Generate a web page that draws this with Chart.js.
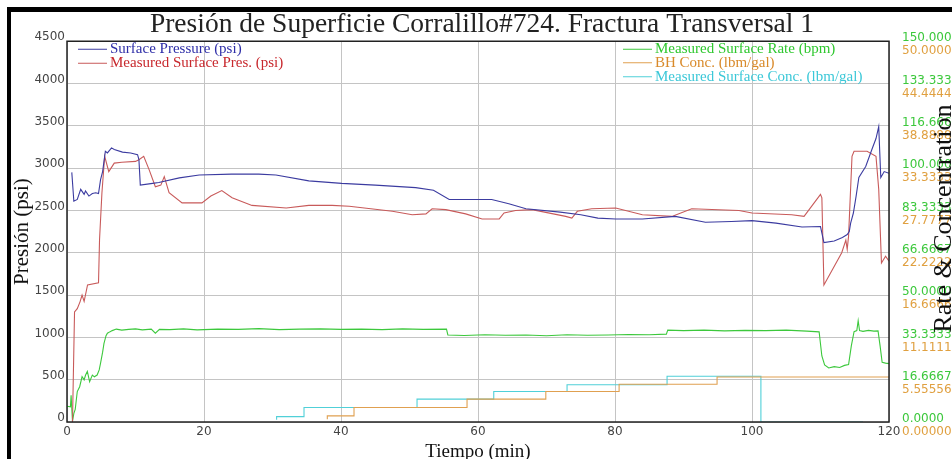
<!DOCTYPE html>
<html>
<head>
<meta charset="utf-8">
<script src="https://cdn.jsdelivr.net/npm/chart.js@4.4.1/dist/chart.umd.min.js"></script>
<style>
  html, body { margin: 0; padding: 0; background: #fff; }
  #wrap { width: 952px; height: 459px; }
</style>
</head>
<body>
<div id="wrap"><canvas id="c" width="952" height="459"></canvas></div>
<script>
// Surface Pressure (psi) - blue
const surfT = [0.7, 1.0, 1.5, 2.0, 2.5, 2.7, 3.2, 3.7, 4.2, 4.6, 4.9, 5.2, 5.6, 5.9, 6.5, 6.9, 8.1, 9.3, 10.3, 10.5,
               10.7, 12.5, 13.4, 16.4, 19.3, 24, 28, 30.5, 35.3, 40.1, 45, 50.9, 53.5, 55.8, 58, 62, 64.5, 67, 72, 75,
               77.5, 80.1, 84, 88.8, 93.2, 97, 100, 103.5, 107.3, 110.0, 110.5, 112, 113.2, 113.9, 114.2, 114.4, 114.8, 115.2, 115.6, 116.6,
               117.5, 118.1, 118.5, 118.8, 119.3, 120];
const surfP = [2950, 2610, 2630, 2750, 2690, 2730, 2670, 2700, 2710, 2700, 2865, 2960, 3200, 3180, 3240, 3220, 3190, 3180, 3160, 3100,
               2800, 2820, 2830, 2885, 2920, 2930, 2930, 2920, 2850, 2820, 2800, 2770, 2740, 2630, 2630, 2630, 2580, 2520, 2480, 2450,
               2410, 2400, 2400, 2430, 2360, 2370, 2380, 2350, 2305, 2310, 2120, 2140, 2180, 2215, 2250, 2350, 2470, 2670, 2890, 3020,
               3220, 3350, 3490, 2890, 2960, 2940];

// Measured Surface Pres. (psi) - red
const measT = [0.8, 1.1, 1.5, 1.9, 2.2, 2.5, 3.0, 4.6, 4.75, 5.1, 5.5, 6.1, 6.9, 8.0, 10.0, 10.5, 11.2, 12.0, 12.9, 13.7,
               14.2, 14.9, 16.8, 19.7, 21.0, 22.6, 24.1, 27.0, 32.0, 35.3, 38.7, 41.2, 47.5, 50.4, 52.4, 53.3, 55.3, 58.2, 60.6, 63.1,
               63.8, 65.5, 67.9, 72.8, 73.7, 74.5, 76.6, 80.1, 84.0, 88.3, 91.2, 98.1, 100.0, 105.8, 107.6, 110.0, 110.2, 110.5, 113.1, 113.7,
               113.9, 114.1, 114.6, 114.9, 116.8, 118.1, 118.5, 118.9, 119.5, 120];
const measP = [0, 1300, 1340, 1420, 1500, 1425, 1620, 1645, 2155, 2710, 3140, 2960, 3060, 3070, 3080, 3100, 3140, 2980, 2780, 2800,
               2900, 2710, 2590, 2590, 2670, 2735, 2650, 2560, 2530, 2560, 2560, 2550, 2490, 2450, 2460, 2520, 2510, 2460, 2400, 2400,
               2470, 2500, 2510, 2430, 2410, 2490, 2520, 2530, 2450, 2430, 2520, 2500, 2470, 2450, 2430, 2690, 2650, 1620, 2000, 2150,
               2040, 2200, 3140, 3200, 3200, 3140, 2750, 1880, 1960, 1900];

// Measured Surface Rate (bpm) - green
const rateT = [0.0, 0.5, 0.6, 0.8, 1.0, 1.2, 1.5, 1.85, 2.2, 2.5, 2.7, 2.97, 3.3, 3.7, 4.0, 4.4, 4.7, 4.9, 5.2, 5.4,
               5.7, 5.9, 6.3, 6.6, 7.2, 8.0, 9.0, 10.0, 11.0, 12.3, 12.9, 13.5, 15, 17, 19, 22, 25, 28, 31, 34,
               37, 40, 43, 46, 49, 52, 55.4, 55.6, 58, 61, 64, 67, 70, 73, 76, 79, 82, 85, 87.5, 87.7,
               90, 93, 96, 99, 102, 105, 108, 109.8, 110.2, 110.6, 111.2, 112, 112.8, 113.5, 114.1, 114.5, 114.9, 115.3, 115.5, 115.7,
               116.2, 117, 117.8, 118.4, 118.7, 119.0, 119.5, 120];
const rateV = [6.2, 6.0, 10.5, 0.3, 3.4, 5.0, 12.0, 13.9, 17.9, 16.6, 18.4, 19.9, 15.9, 18.5, 17.8, 18.5, 20.5, 23.2, 27.5, 31.0,
               34.0, 35.0, 35.6, 36.0, 36.6, 36.2, 36.5, 36.7, 36.3, 36.6, 35.0, 36.5, 36.4, 36.7, 36.3, 36.6, 36.5, 36.8, 36.4, 36.6,
               36.7, 36.5, 36.6, 36.4, 36.7, 36.5, 36.6, 34.3, 34.1, 34.4, 34.2, 34.3, 34.0, 34.4, 34.2, 34.3, 34.5, 34.4, 34.6, 36.2,
               36.0, 36.2, 35.9, 36.1, 36.0, 36.2, 35.8, 35.5, 26.0, 22.5, 21.3, 21.8, 21.5, 22.3, 22.6, 30.0, 35.6, 36.0, 39.9, 36.0,
               35.7, 36.1, 35.8, 35.9, 30.0, 23.5, 23.2, 23.0];

// BH Conc. (lbm/gal) - orange, stepped
const bhT = [38.0, 41.9, 58.4, 69.9, 80.6, 94.9, 108.8, 120];
const bhC = [0.35, 0.8, 1.9, 3.0, 4.0, 4.96, 5.9, 5.9];

// Measured Surface Conc. (lbm/gal) - cyan, stepped
const mscT = [30.6, 34.6, 51.1, 62.3, 73.0, 87.6, 101.3, 116.2];
const mscC = [0.3, 0.7, 1.9, 3.0, 4.0, 4.9, 6.0, 0];

const rateTickLabels = ['0.0000', '16.6667', '33.3333', '50.0000', '66.6667', '83.3333', '100.0000', '116.6667', '133.3333', '150.0000'];
const concTickLabels = ['0.00000', '5.55556', '11.11111', '16.66667', '22.22222', '27.77778', '33.33333', '38.88889', '44.44444', '50.00000'];

const pair = (ts, vs) => ts.map((t, i) => ({x: t, y: vs[i]}));

const legendText = ['#2e2ea8', '#c8282d', '#2fc82f', '#d98a2a', '#3cc8d8'];

const tickFont = {family: '"DejaVu Sans", sans-serif', size: 12};

const decor = {
    id: 'decor',
    afterLayout(chart) {
        // both right-hand scales share one column of labels
        const r = chart.scales.yRate;
        const c = chart.scales.yConc;
        c.left  = r.left;
        c.right = r.right;
        c.width = r.width;
    },
    beforeDraw(chart) {
        const ctx = chart.ctx;
        ctx.save();
        ctx.fillStyle = '#fff';
        ctx.fillRect(0, 0, chart.width, chart.height);
        ctx.fillStyle = '#000';
        ctx.fillRect(7, 7, 4, chart.height - 7);
        ctx.fillRect(7, 7, chart.width - 7, 5);
        ctx.restore();
    },
    afterDatasetsDraw(chart) {
        const {ctx, chartArea: a} = chart;
        ctx.save();
        ctx.strokeStyle = '#222';
        ctx.lineWidth = 1.5;
        ctx.strokeRect(a.left, a.top, a.right - a.left, a.bottom - a.top);

        // two legend blocks inside the plot
        ctx.font = '15px "Liberation Serif", serif';
        ctx.textBaseline = 'middle';
        ctx.textAlign = 'left';
        const spots = [
            [a.left + 11, a.top + 8],
            [a.left + 11, a.top + 22],
            [a.left + 556, a.top + 8],
            [a.left + 556, a.top + 21.5],
            [a.left + 556, a.top + 35.5]
        ];
        chart.data.datasets.forEach((ds, i) => {
            const [x, y] = spots[i];
            ctx.strokeStyle = ds.borderColor;
            ctx.lineWidth = 1;
            ctx.beginPath();
            ctx.moveTo(x, y);
            ctx.lineTo(x + 29, y);
            ctx.stroke();
            ctx.fillStyle = legendText[i];
            ctx.fillText(ds.label, x + 32, y);
        });

        // right axis title, reads bottom to top
        ctx.fillStyle = '#111';
        ctx.font = '26px "Liberation Serif", serif';
        ctx.textAlign = 'center';
        ctx.textBaseline = 'alphabetic';
        ctx.translate(951, (a.top + a.bottom) / 2 - 13);
        ctx.rotate(-Math.PI / 2);
        ctx.fillText('Rate & Concentration', 0, 0);
        ctx.restore();
    }
};

new Chart(document.getElementById('c'), {
    type: 'line',
    data: {
        datasets: [
            {label: 'Surface Pressure (psi)', data: pair(surfT, surfP), borderColor: '#3b3ba0', yAxisID: 'y'},
            {label: 'Measured Surface Pres. (psi)', data: pair(measT, measP), borderColor: '#c85a5a', yAxisID: 'y'},
            {label: 'Measured Surface Rate (bpm)', data: pair(rateT, rateV), borderColor: '#3cc83c', yAxisID: 'yRate'},
            {label: 'BH Conc. (lbm/gal)', data: pair(bhT, bhC), borderColor: '#e0a050', yAxisID: 'yConc', stepped: 'after'},
            {label: 'Measured Surface Conc. (lbm/gal)', data: pair(mscT, mscC), borderColor: '#50d0d8', yAxisID: 'yConc', stepped: 'after'}
        ]
    },
    options: {
        responsive: false,
        animation: false,
        devicePixelRatio: 1,
        parsing: false,
        elements: {
            point: {radius: 0},
            line: {borderWidth: 1.1, tension: 0}
        },
        layout: {padding: {left: 12, right: 0, top: 0, bottom: 0}},
        plugins: {
            legend: {display: false},
            tooltip: {enabled: false},
            title: {
                display: true,
                text: 'Presión de Superficie Corralillo#724. Fractura Transversal 1',
                color: '#222',
                font: {family: '"Liberation Serif", serif', size: 27.5, weight: 'normal', lineHeight: 1.1},
                padding: {top: 10, bottom: 1}
            }
        },
        scales: {
            x: {
                type: 'linear',
                min: 0,
                max: 120,
                afterFit: s => { s.height = 37; },
                ticks: {stepSize: 20, color: '#444', font: tickFont, padding: 3, maxRotation: 0},
                grid: {color: '#c4c4c4', drawTicks: false},
                border: {display: false},
                title: {
                    display: true,
                    text: 'Tiempo (min)',
                    color: '#111',
                    font: {family: '"Liberation Serif", serif', size: 19, lineHeight: 1},
                    padding: {top: 0, bottom: -3}
                }
            },
            y: {
                position: 'left',
                min: 0,
                max: 4500,
                afterFit: s => { s.width = 55; },
                ticks: {stepSize: 500, color: '#444', font: tickFont, padding: 2, labelOffset: -4,
                        callback: v => String(v)},
                grid: {color: '#c4c4c4', drawTicks: false},
                border: {display: false},
                title: {
                    display: true,
                    text: 'Presión (psi)',
                    color: '#111',
                    font: {family: '"Liberation Serif", serif', size: 21, lineHeight: 1},
                    padding: 0
                }
            },
            yConc: {
                position: 'right',
                weight: 0,
                min: 0,
                max: 50,
                afterFit: s => { s.width = 0; },
                ticks: {count: 10, color: '#e0a040', font: tickFont, padding: 13, labelOffset: 10,
                        callback: (v, i) => concTickLabels[i]},
                grid: {display: false, drawTicks: false},
                border: {display: false}
            },
            yRate: {
                position: 'right',
                weight: 1,
                min: 0,
                max: 150,
                afterFit: s => { s.width = 63; },
                ticks: {count: 10, color: '#3cc83c', font: tickFont, padding: 13, labelOffset: -3,
                        callback: (v, i) => rateTickLabels[i]},
                grid: {display: false, drawTicks: false},
                border: {display: false}
            }
        }
    },
    plugins: [decor]
});
</script>
</body>
</html>
